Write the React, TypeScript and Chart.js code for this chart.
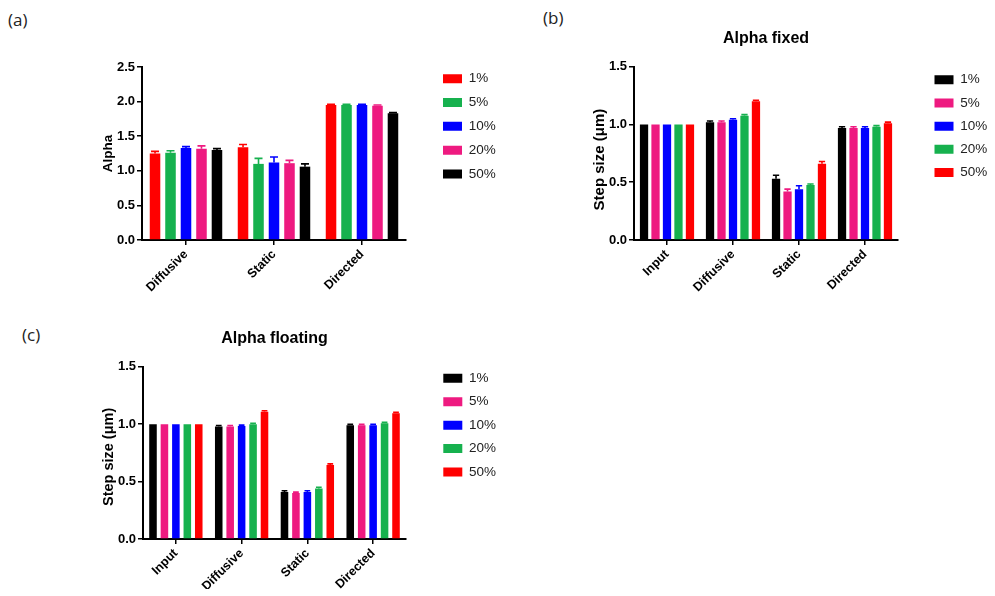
import React, { useEffect, useRef } from 'react';
import { Chart, registerables } from 'chart.js';

Chart.register(...registerables);

const FONT = "'Liberation Sans', Arial, sans-serif";
const RED = '#FF0000';
const GREEN = '#16B14E';
const BLUE = '#0000FF';
const PINK = '#EE1A80';
const BLACK = '#000000';

const pctLabels = ['1%', '5%', '10%', '20%', '50%'];

// Panel (a): Alpha
const catsA = ['Diffusive', 'Static', 'Directed'];
const alphaP1 = [1.25, 1.34, 1.95];
const alphaP5 = [1.26, 1.10, 1.95];
const alphaP10 = [1.33, 1.12, 1.95];
const alphaP20 = [1.32, 1.11, 1.94];
const alphaP50 = [1.30, 1.06, 1.83];
const alphaErrP1 = [0.03, 0.04, 0.01];
const alphaErrP5 = [0.03, 0.08, 0.01];
const alphaErrP10 = [0.02, 0.08, 0.01];
const alphaErrP20 = [0.04, 0.04, 0.01];
const alphaErrP50 = [0.02, 0.04, 0.01];

// Panel (b): Alpha fixed, step size
const catsBC = ['Input', 'Diffusive', 'Static', 'Directed'];
const fixedP1 = [1.0, 1.02, 0.53, 0.97];
const fixedP5 = [1.0, 1.02, 0.42, 0.97];
const fixedP10 = [1.0, 1.04, 0.44, 0.97];
const fixedP20 = [1.0, 1.075, 0.475, 0.98];
const fixedP50 = [1.0, 1.20, 0.66, 1.01];
const fixedErrP1 = [0, 0.01, 0.03, 0.01];
const fixedErrP5 = [0, 0.01, 0.02, 0.01];
const fixedErrP10 = [0, 0.01, 0.03, 0.01];
const fixedErrP20 = [0, 0.01, 0.01, 0.01];
const fixedErrP50 = [0, 0.01, 0.02, 0.01];

// Panel (c): Alpha floating, step size
const floatP1 = [1.0, 0.98, 0.41, 0.99];
const floatP5 = [1.0, 0.98, 0.40, 0.99];
const floatP10 = [1.0, 0.983, 0.41, 0.99];
const floatP20 = [1.0, 1.0, 0.44, 1.007];
const floatP50 = [1.0, 1.108, 0.644, 1.094];
const floatErrP1 = [0, 0.008, 0.01, 0.008];
const floatErrP5 = [0, 0.008, 0.008, 0.008];
const floatErrP10 = [0, 0.008, 0.01, 0.008];
const floatErrP20 = [0, 0.008, 0.01, 0.008];
const floatErrP50 = [0, 0.008, 0.01, 0.008];

const errorBarPlugin = {
  id: 'errorBars',
  afterDatasetsDraw(chart: any) {
    const ctx = chart.ctx;
    const yScale = chart.scales.y;
    chart.data.datasets.forEach((ds: any, i: number) => {
      const meta = chart.getDatasetMeta(i);
      const errs = ds.errors || [];
      meta.data.forEach((bar: any, j: number) => {
        const v = ds.data[j];
        const e = errs[j] || 0;
        if (!e) return;
        const yTop = yScale.getPixelForValue(v + e);
        const x = bar.x;
        const w = bar.width;
        ctx.save();
        ctx.strokeStyle = ds.backgroundColor;
        ctx.lineWidth = 1.6;
        ctx.beginPath();
        ctx.moveTo(x, bar.y);
        ctx.lineTo(x, yTop);
        ctx.moveTo(x - w * 0.38, yTop);
        ctx.lineTo(x + w * 0.38, yTop);
        ctx.stroke();
        ctx.restore();
      });
    });
  },
};

const legendPlacePlugin = {
  id: 'legendPlace',
  beforeDraw(chart: any, _args: any, opts: any) {
    const lg = chart.legend;
    if (!lg || !opts || opts.x == null) return;
    const pad = lg.options.labels.padding;
    lg.left = opts.x - pad;
    lg.right = lg.left + 120;
    lg.top = opts.y - pad;
    lg.bottom = lg.top + 200;
  },
};

type Series = { label: string; data: number[]; errors: number[]; color: string };

type PanelSpec = {
  cats: string[];
  series: Series[];
  yMax: number;
  yStep: number;
  yTitle: string;
  yTitleSize: number;
  title?: string;
  padding: { left: number; right: number; top: number; bottom: number };
  yWidth: number;
  xHeight: number;
  legendX: number;
  legendY: number;
  legendPad: number;
  catPct: number;
  barPct: number;
};

function buildConfig(p: PanelSpec): any {
  return {
    type: 'bar',
    data: {
      labels: p.cats,
      datasets: p.series.map((s) => ({
        label: s.label,
        data: s.data,
        errors: s.errors,
        backgroundColor: s.color,
        borderColor: s.color,
        borderWidth: 0,
        categoryPercentage: p.catPct,
        barPercentage: p.barPct,
      })),
    },
    options: {
      responsive: false,
      animation: false,
      events: [],
      layout: { padding: p.padding },
      plugins: {
        tooltip: { enabled: false },
        title: p.title
          ? {
              display: true,
              text: p.title,
              fullSize: false,
              color: '#000',
              font: { family: FONT, size: 16, weight: 'bold', lineHeight: 1.2 },
              padding: { top: 0, bottom: 18.1 },
            }
          : { display: false },
        legend: {
          display: true,
          position: 'chartArea',
          align: 'start',
          labels: {
            boxWidth: 19,
            boxHeight: 9,
            padding: p.legendPad,
            color: '#222',
            font: { family: FONT, size: 13.5 },
          },
        },
        legendPlace: { x: p.legendX, y: p.legendY },
      },
      scales: {
        x: {
          type: 'category',
          offset: true,
          grid: {
            display: true,
            drawOnChartArea: false,
            drawTicks: true,
            tickLength: 5,
            color: '#000',
            lineWidth: 1.5,
            offset: false,
          },
          border: { display: true, color: '#000', width: 2 },
          ticks: {
            color: '#000',
            font: { family: FONT, size: 12.5, weight: 'bold' },
            minRotation: 45,
            maxRotation: 45,
            autoSkip: false,
            padding: 2,
          },
          afterFit(s: any) {
            s.height = p.xHeight;
          },
        },
        y: {
          min: 0,
          max: p.yMax,
          grid: {
            display: true,
            drawOnChartArea: false,
            drawTicks: true,
            tickLength: 5,
            color: '#000',
            lineWidth: 1.5,
          },
          border: { display: true, color: '#000', width: 2 },
          ticks: {
            stepSize: p.yStep,
            color: '#000',
            padding: 2,
            font: { family: FONT, size: 13, weight: 'bold' },
            callback: (v: any) => Number(v).toFixed(1),
          },
          title: {
            display: true,
            text: p.yTitle,
            color: '#000',
            padding: 0,
            font: { family: FONT, size: p.yTitleSize, weight: 'bold', lineHeight: 1.2 },
          },
          afterFit(s: any) {
            s.width = p.yWidth;
          },
        },
      },
    },
    plugins: [errorBarPlugin, legendPlacePlugin],
  };
}

const W = 995;
const H = 596;

const panelA: PanelSpec = {
  cats: catsA,
  series: [
    { label: pctLabels[0], data: alphaP1, errors: alphaErrP1, color: RED },
    { label: pctLabels[1], data: alphaP5, errors: alphaErrP5, color: GREEN },
    { label: pctLabels[2], data: alphaP10, errors: alphaErrP10, color: BLUE },
    { label: pctLabels[3], data: alphaP20, errors: alphaErrP20, color: PINK },
    { label: pctLabels[4], data: alphaP50, errors: alphaErrP50, color: BLACK },
  ],
  yMax: 2.5,
  yStep: 0.5,
  yTitle: 'Alpha',
  yTitleSize: 13.5,
  padding: { left: 100, right: W - 406, top: 67, bottom: H - 240 - 70 },
  yWidth: 42,
  xHeight: 70,
  legendX: 443,
  legendY: 72,
  legendPad: 10.3,
  catPct: 0.88,
  barPct: 0.68,
};

const panelB: PanelSpec = {
  cats: catsBC,
  series: [
    { label: pctLabels[0], data: fixedP1, errors: fixedErrP1, color: BLACK },
    { label: pctLabels[1], data: fixedP5, errors: fixedErrP5, color: PINK },
    { label: pctLabels[2], data: fixedP10, errors: fixedErrP10, color: BLUE },
    { label: pctLabels[3], data: fixedP20, errors: fixedErrP20, color: GREEN },
    { label: pctLabels[4], data: fixedP50, errors: fixedErrP50, color: RED },
  ],
  yMax: 1.5,
  yStep: 0.5,
  yTitle: 'Step size (\u03bcm)\u00a0\u00a0\u00a0',
  yTitleSize: 15,
  title: 'Alpha fixed',
  padding: { left: 591, right: W - 898, top: 29.4, bottom: H - 240 - 70 },
  yWidth: 43,
  xHeight: 70,
  legendX: 934.5,
  legendY: 73,
  legendPad: 9.7,
  catPct: 0.87,
  barPct: 0.72,
};

const panelC: PanelSpec = {
  cats: catsBC,
  series: [
    { label: pctLabels[0], data: floatP1, errors: floatErrP1, color: BLACK },
    { label: pctLabels[1], data: floatP5, errors: floatErrP5, color: PINK },
    { label: pctLabels[2], data: floatP10, errors: floatErrP10, color: BLUE },
    { label: pctLabels[3], data: floatP20, errors: floatErrP20, color: GREEN },
    { label: pctLabels[4], data: floatP50, errors: floatErrP50, color: RED },
  ],
  yMax: 1.5,
  yStep: 0.5,
  yTitle: 'Step size (\u03bcm)\u00a0\u00a0',
  yTitleSize: 14.5,
  title: 'Alpha floating',
  padding: { left: 100, right: W - 406, top: 329.4, bottom: H - 539 - 50 },
  yWidth: 43,
  xHeight: 50,
  legendX: 443.3,
  legendY: 371.6,
  legendPad: 9.9,
  catPct: 0.87,
  barPct: 0.66,
};

function PanelCanvas({ spec }: { spec: PanelSpec }) {
  const ref = useRef<HTMLCanvasElement | null>(null);
  useEffect(() => {
    if (!ref.current) return;
    const chart = new Chart(ref.current, buildConfig(spec));
    return () => chart.destroy();
  }, [spec]);
  return (
    <canvas
      ref={ref}
      width={W}
      height={H}
      style={{ position: 'absolute', left: 0, top: 0, width: W, height: H }}
    />
  );
}

const labelStyle: React.CSSProperties = {
  position: 'absolute',
  fontFamily: "'Open Sans', 'Noto Sans', sans-serif",
  fontSize: 17,
  color: '#222',
  lineHeight: '20px',
};

export default function App() {
  return (
    <div
      style={{
        position: 'absolute',
        left: 0,
        top: 0,
        width: W,
        height: H,
        background: '#fff',
        overflow: 'hidden',
      }}
    >
      <div style={{ ...labelStyle, left: 8, top: 10 }}>(a)</div>
      <div style={{ ...labelStyle, left: 543, top: 8 }}>(b)</div>
      <div style={{ ...labelStyle, left: 22, top: 325 }}>(c)</div>
      <PanelCanvas spec={panelA} />
      <PanelCanvas spec={panelB} />
      <PanelCanvas spec={panelC} />
    </div>
  );
}
